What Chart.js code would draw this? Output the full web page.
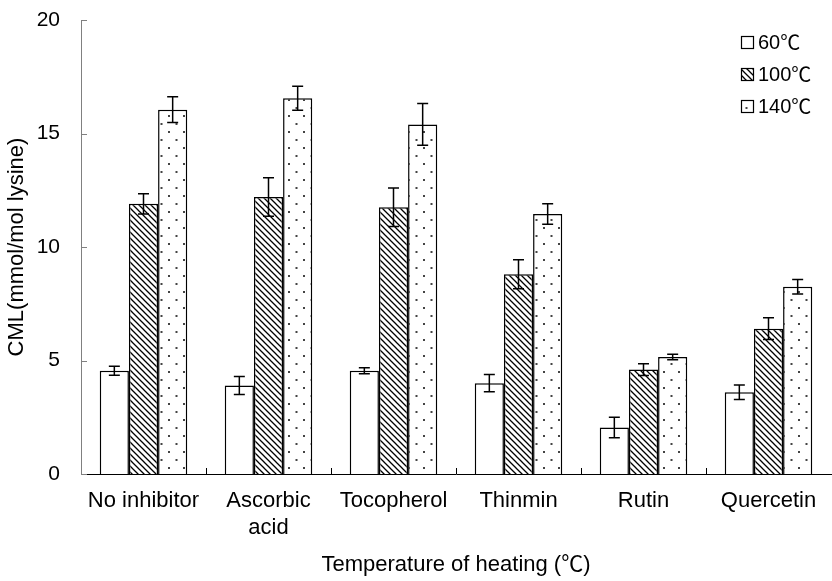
<!DOCTYPE html>
<html>
<head>
<meta charset="utf-8">
<script src="https://cdn.jsdelivr.net/npm/chart.js@4.4.1/dist/chart.umd.min.js"></script>
<style>
  html, body { margin: 0; padding: 0; background: #fff; }
</style>
</head>
<body>
<canvas id="cmlChart" width="832" height="581"></canvas>
<script>
// categories (inhibitors) and series (heating temperature)
const categories = ["No inhibitor", ["Ascorbic", "acid"], "Tocopherol", "Thinmin", "Rutin", "Quercetin"];
const seriesNames = ["60℃", "100℃", "140℃"];

const cml60 = [4.55, 3.9, 4.55, 4.0, 2.05, 3.6];
const err60 = [0.2, 0.4, 0.13, 0.38, 0.45, 0.32];
const cml100 = [11.9, 12.2, 11.75, 8.8, 4.6, 6.4];
const err100 = [0.45, 0.85, 0.85, 0.64, 0.26, 0.48];
const cml140 = [16.05, 16.55, 15.4, 11.45, 5.15, 8.25];
const err140 = [0.57, 0.53, 0.92, 0.45, 0.12, 0.32];

const yTicks = [0, 5, 10, 15, 20];

const FONT = 'Arial, "Liberation Sans", "Noto Sans CJK SC", sans-serif';
const CJK = '"Noto Sans CJK SC", sans-serif';

// fill patterns
function makeHatch() {
    const c = document.createElement("canvas");
    c.width = 6; c.height = 6;
    const g = c.getContext("2d");
    g.fillStyle = "#fff";
    g.fillRect(0, 0, 6, 6);
    g.strokeStyle = "#000";
    g.lineWidth = 1.3;
    g.beginPath();
    g.moveTo(-1, -1); g.lineTo(7, 7);
    g.moveTo(-4, 2); g.lineTo(4, 10);
    g.moveTo(2, -4); g.lineTo(10, 4);
    g.stroke();
    return g.createPattern(c, "repeat");
}

function makeDots() {
    const c = document.createElement("canvas");
    c.width = 15; c.height = 16;
    const g = c.getContext("2d");
    g.fillStyle = "#fff";
    g.fillRect(0, 0, 15, 16);
    g.fillStyle = "#444";
    g.fillRect(3, 3, 2, 2);
    g.fillRect(10.5, 11, 2, 2);
    return g.createPattern(c, "repeat");
}

const fills = ["#ffffff", makeHatch(), makeDots()];

const errorBars = {
    id: "errorBars",
    afterDatasetsDraw(chart) {
        const ctx = chart.ctx;
        const y = chart.scales.y;
        ctx.save();
        ctx.strokeStyle = "#000";
        ctx.lineWidth = 1.5;
        chart.data.datasets.forEach((ds, i) => {
            chart.getDatasetMeta(i).data.forEach((bar, j) => {
                const v = ds.data[j], e = ds.errors[j];
                const top = y.getPixelForValue(v + e);
                const bot = y.getPixelForValue(v - e);
                ctx.beginPath();
                ctx.moveTo(bar.x, top); ctx.lineTo(bar.x, bot);
                ctx.moveTo(bar.x - 5.5, top); ctx.lineTo(bar.x + 5.5, top);
                ctx.moveTo(bar.x - 5.5, bot); ctx.lineTo(bar.x + 5.5, bot);
                ctx.stroke();
            });
        });
        ctx.restore();
    }
};

// inward tick marks and the legend box
const extras = {
    id: "extras",
    afterDraw(chart) {
        const ctx = chart.ctx;
        const { x, y } = chart.scales;
        const area = chart.chartArea;
        ctx.save();
        ctx.lineWidth = 1;
        ctx.strokeStyle = "#808080";
        yTicks.forEach(t => {
            const py = Math.round(y.getPixelForValue(t)) + 0.5;
            ctx.beginPath();
            ctx.moveTo(area.left, py); ctx.lineTo(area.left + 6, py);
            ctx.stroke();
        });
        ctx.strokeStyle = "#000";
        for (let i = 1; i < categories.length; i++) {
            const px = Math.round((x.getPixelForValue(i - 1) + x.getPixelForValue(i)) / 2) + 0.5;
            ctx.beginPath();
            ctx.moveTo(px, area.bottom); ctx.lineTo(px, area.bottom - 6);
            ctx.stroke();
        }

        // legend: number in Arial, the ℃ sign in the CJK face
        ctx.textBaseline = "middle";
        ctx.textAlign = "left";
        chart.data.datasets.forEach((ds, i) => {
            const cy = 42 + i * 32;
            ctx.fillStyle = ds.backgroundColor;
            ctx.fillRect(741, cy - 6, 13, 13);
            ctx.strokeStyle = "#000";
            ctx.lineWidth = 1.2;
            ctx.strokeRect(741.5, cy - 5.5, 12, 12);
            ctx.fillStyle = "#000";
            const num = ds.label.replace("℃", "");
            ctx.font = "20px " + FONT;
            ctx.fillText(num, 758, cy + 1);
            const w = ctx.measureText(num).width;
            ctx.font = "20px " + CJK;
            ctx.fillText("℃", 758 + w, cy);
        });
        ctx.restore();
    }
};

function dataset(label, data, errors, i) {
    return {
        label: label,
        data: data,
        errors: errors,
        backgroundColor: fills[i],
        borderColor: "#000",
        borderWidth: 1.5,
        categoryPercentage: 0.7,
        barPercentage: 1.0
    };
}

new Chart(document.getElementById("cmlChart"), {
    type: "bar",
    data: {
        labels: categories,
        datasets: [
            dataset(seriesNames[0], cml60, err60, 0),
            dataset(seriesNames[1], cml100, err100, 1),
            dataset(seriesNames[2], cml140, err140, 2)
        ]
    },
    options: {
        responsive: false,
        animation: false,
        layout: { padding: { top: 20, right: 1, left: 0, bottom: 0 } },
        plugins: {
            legend: { display: false },
            tooltip: { enabled: false }
        },
        scales: {
            x: {
                grid: { display: false, offset: true },
                border: { display: true, color: "#000", width: 1 },
                ticks: {
                    color: "#000",
                    font: { family: FONT, size: 22, lineHeight: 1.2 },
                    padding: 6,
                    maxRotation: 0,
                    autoSkip: false
                },
                title: {
                    display: true,
                    text: "Temperature of heating (℃)",
                    color: "#000",
                    font: { family: FONT, size: 22 },
                    padding: { top: 0, bottom: 3 }
                },
                afterFit(scale) { scale.height = 107; }
            },
            y: {
                min: 0,
                max: 20,
                grid: { display: false },
                border: { display: true, color: "#808080", width: 1 },
                afterBuildTicks(scale) { scale.ticks = yTicks.map(v => ({ value: v })); },
                ticks: {
                    color: "#000",
                    font: { family: FONT, size: 21 },
                    padding: 13
                },
                title: {
                    display: true,
                    text: "CML(mmol/mol lysine)",
                    color: "#000",
                    font: { family: FONT, size: 22 },
                    padding: { top: 4, bottom: 0 }
                },
                afterFit(scale) {
                    scale.width = 81;
                    scale.paddingTop = 0;
                    scale.paddingBottom = 0;
                }
            }
        }
    },
    plugins: [errorBars, extras]
});
</script>
</body>
</html>
